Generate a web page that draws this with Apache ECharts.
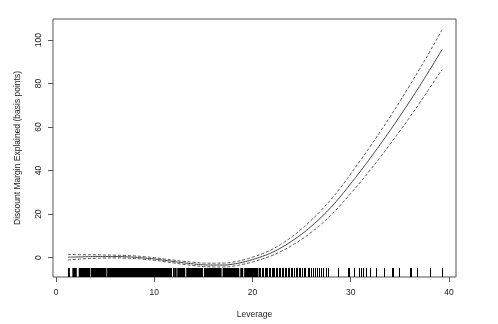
<!DOCTYPE html>
<html>
<head>
<meta charset="utf-8">
<script src="https://cdn.jsdelivr.net/npm/echarts@6/dist/echarts.min.js"></script>
<style>html,body{margin:0;padding:0;background:#fff}#c{width:498px;height:324px}</style>
</head>
<body>
<div id="c"></div>
<script>
var leverage = [1.2,2,3,4,5,6,7,8,9,10,11,12,13,14,15,16,17,18,19,20,21,22,23,24,25,26,27,28,29,30,31,32,33,34,35,36,37,38,39,39.3];
// Fitted smooth (basis points)
var fitted = [0.2,0.3,0.4,0.5,0.5,0.5,0.4,0.2,-0.2,-0.6,-1.2,-1.8,-2.4,-2.9,-3.3,-3.4,-3.4,-3.0,-2.1,-0.9,0.6,2.4,4.8,7.6,10.8,14.5,18.6,23.2,28.4,34.0,39.8,45.8,52.0,58.4,65.0,71.8,78.8,86.0,93.4,95.6];
// Upper and lower confidence bands
var upperBand = [1.5,1.4,1.3,1.3,1.2,1.15,1.0,0.8,0.4,0.0,-0.6,-1.15,-1.7,-2.15,-2.5,-2.55,-2.5,-2.05,-1.1,0.2,1.8,3.8,6.5,9.6,13.2,17.3,21.8,26.8,32.4,38.5,44.8,51.2,57.9,64.7,71.8,79.1,86.6,94.3,102.3,104.8];
var lowerBand = [-1.1,-0.8,-0.5,-0.3,-0.2,-0.15,-0.2,-0.4,-0.8,-1.2,-1.8,-2.45,-3.1,-3.65,-4.1,-4.25,-4.3,-3.95,-3.1,-2.0,-0.6,1.0,3.1,5.6,8.4,11.7,15.4,19.6,24.4,29.5,34.8,40.4,46.1,52.1,58.2,64.5,71.0,77.7,84.5,86.4];
// Rug: dense stretches of observations (start, end) and individual observations
var rugBlocks = [[1.2,1.4],[1.65,2.1],[2.3,3.47],[3.53,5.13],[5.19,11.8],[11.9,11.97],[12.02,12.27],[12.33,13.15],[13.25,14.95],[15.05,16.85],[16.95,18.65],[18.75,19.05],[19.15,20.6]];
var rugTicks = [20.7,20.8,21.0,21.1,21.3,21.4,21.5,21.7,21.8,22.0,22.1,22.2,22.4,22.5,22.7,22.8,23.0,23.1,23.3,23.4,23.6,23.7,23.9,24.0,24.2,24.4,24.5,24.7,24.8,25.0,25.2,25.3,25.6,25.8,26.0,26.2,26.4,26.6,26.8,27.0,27.2,27.5,27.7,28.75,29.7,29.85,30.3,30.8,31.0,31.3,31.6,32.0,32.6,33.4,34.2,34.35,34.9,36.0,36.15,36.7,38.1,39.3];
var xTicks = [0,10,20,30,40];
var yTicks = [0,20,40,60,80,100];

var FONT = '"Liberation Sans", Arial, Helvetica, sans-serif';
var RUG_LEN = 9;

function pairs(xs, ys){ return xs.map(function(x,i){ return [x, ys[i]]; }); }

var chart = echarts.init(document.getElementById('c'), null, {renderer:'canvas'});
chart.setOption({
  animation: false,
  backgroundColor: '#fff',
  grid: {left:53, right:42, top:19, bottom:47, show:true, borderColor:'#555', borderWidth:1, backgroundColor:'transparent'},
  xAxis: {
    type:'value', min:-0.32, max:40.72,
    axisLine:{show:false, onZero:false},
    splitLine:{show:false},
    axisTick:{show:true, customValues:xTicks, length:5, lineStyle:{color:'#555', width:1}},
    axisLabel:{customValues:xTicks, margin:11, fontSize:8.5, color:'#222', fontFamily:FONT},
    name:'Leverage', nameLocation:'middle', nameGap:33,
    nameTextStyle:{fontSize:8.5, color:'#222', fontFamily:FONT}
  },
  yAxis: {
    type:'value', min:-8.9, max:109.7,
    axisLine:{show:false, onZero:false},
    splitLine:{show:false},
    axisTick:{show:true, customValues:yTicks, length:5, lineStyle:{color:'#555', width:1}},
    axisLabel:{customValues:yTicks, rotate:90, margin:10, fontSize:8.5, color:'#222', fontFamily:FONT},
    name:'Discount Margin Explained (basis points)', nameLocation:'middle', nameGap:31,
    nameTextStyle:{fontSize:8.5, color:'#222', fontFamily:FONT}
  },
  series: [
    {type:'line', data:pairs(leverage, fitted), smooth:true, showSymbol:false, silent:true,
     lineStyle:{color:'#444', width:1}},
    {type:'line', data:pairs(leverage, upperBand), smooth:true, showSymbol:false, silent:true,
     lineStyle:{color:'#555', width:1, type:[3,2]}},
    {type:'line', data:pairs(leverage, lowerBand), smooth:true, showSymbol:false, silent:true,
     lineStyle:{color:'#555', width:1, type:[3,2]}},
    {type:'custom', silent:true, clip:false, data:rugBlocks,
     renderItem:function(params, api){
       var cs = params.coordSys;
       var bottom = cs.y + cs.height;
       var a = api.coord([api.value(0), 0])[0];
       var b = api.coord([api.value(1), 0])[0];
       return {type:'rect', shape:{x:a, y:bottom-RUG_LEN, width:Math.max(b-a,1), height:RUG_LEN}, style:{fill:'#000'}};
     }},
    {type:'custom', silent:true, clip:false, data:rugTicks.map(function(v){return [v];}),
     renderItem:function(params, api){
       var cs = params.coordSys;
       var bottom = cs.y + cs.height;
       var x = Math.round(api.coord([api.value(0), 0])[0]) + 0.5;
       return {type:'line', shape:{x1:x, y1:bottom, x2:x, y2:bottom-RUG_LEN}, style:{stroke:'#000', lineWidth:1}};
     }}
  ]
});
</script>
</body>
</html>
